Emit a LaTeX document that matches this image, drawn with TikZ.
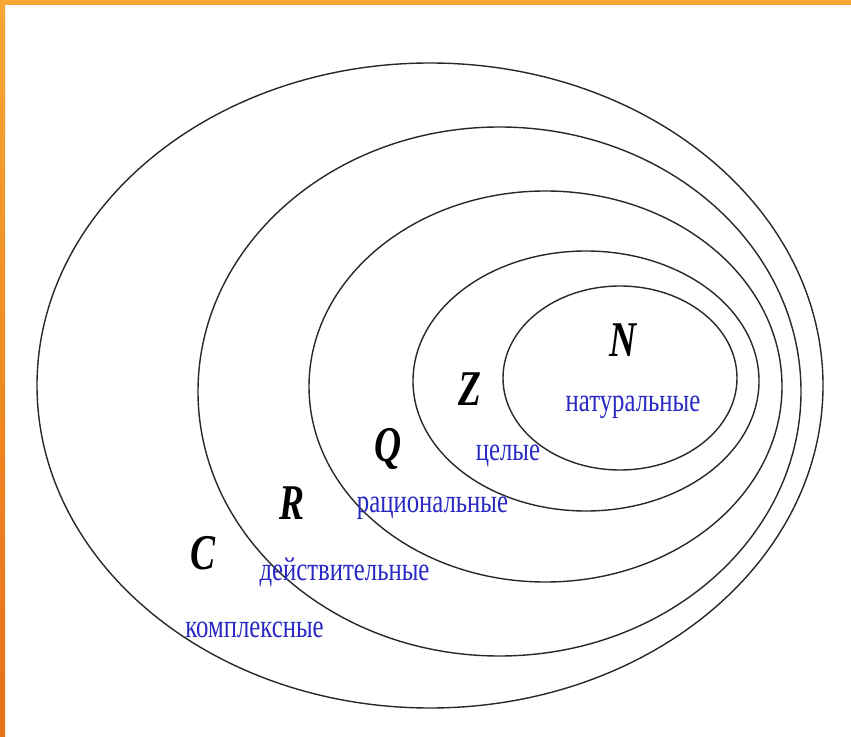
\documentclass[tikz,border=0pt]{standalone}
\usepackage{fontspec}
\setmainfont{Liberation Serif}
\newfontfamily\narrowserif[FakeStretch=0.75]{Liberation Serif}
\newfontfamily\narrowbi[FakeStretch=0.72,UprightFont={* Bold Italic},BoldFont={* Bold Italic},ItalicFont={* Bold Italic}]{Liberation Serif}
\usetikzlibrary{shapes.geometric}
\definecolor{lblblue}{RGB}{40,40,195}
\definecolor{orangetop}{RGB}{246,166,50}
\definecolor{orangebot}{RGB}{232,112,22}
\definecolor{lineclr}{RGB}{40,40,40}
\tikzset{
  setell/.style={ellipse, draw=lineclr, line width=0.7pt, inner sep=0pt},
  setletter/.style={inner sep=0pt, font=\narrowserif\bfseries\itshape\fontsize{25}{25}\selectfont},
  setname/.style={inner sep=0pt, anchor=base, text=lblblue, font=\narrowserif\fontsize{16.5}{16.5}\selectfont}
}
\begin{document}
\begin{tikzpicture}[x=0.5pt,y=-0.5pt]
\useasboundingbox (0,0) rectangle (851,737);
\fill[white] (0,0) rectangle (851,737);
% border
\fill[orangetop] (0,0) rectangle (851,5);
\shade[top color=orangetop, bottom color=orangebot] (0,0) rectangle (5,737);
% ellipses
\node[setell, minimum width=393pt, minimum height=322.5pt] (C) at (430,385.5) {};
\node[setell, minimum width=301.5pt, minimum height=264.5pt] (R) at (499.5,391.5) {};
\node[setell, minimum width=236.5pt, minimum height=195.5pt] (Q) at (545.5,386.5) {};
\node[setell, minimum width=173pt, minimum height=130pt] (Z) at (586,381) {};
\node[setell, minimum width=117pt, minimum height=92pt] (N) at (620,378) {};
% letters
\node[setletter] (lN) at (623,340) {N};
\node[setletter] (lZ) at (470,389) {Z};
\node[setletter] (lQ) at (388,449) {Q};
\node[setletter] (lR) at (292,503) {R};
\node[setletter] (lC) at (203,553) {C};
% names
\node[setname] (tN) at (633,412) {натуральные};
\node[setname] (tZ) at (508,460) {целые};
\node[setname] (tQ) at (432.5,512) {рациональные};
\node[setname] (tR) at (344.5,580) {действительные};
\node[setname] (tC) at (254.5,637) {комплексные};
\end{tikzpicture}
\end{document}
